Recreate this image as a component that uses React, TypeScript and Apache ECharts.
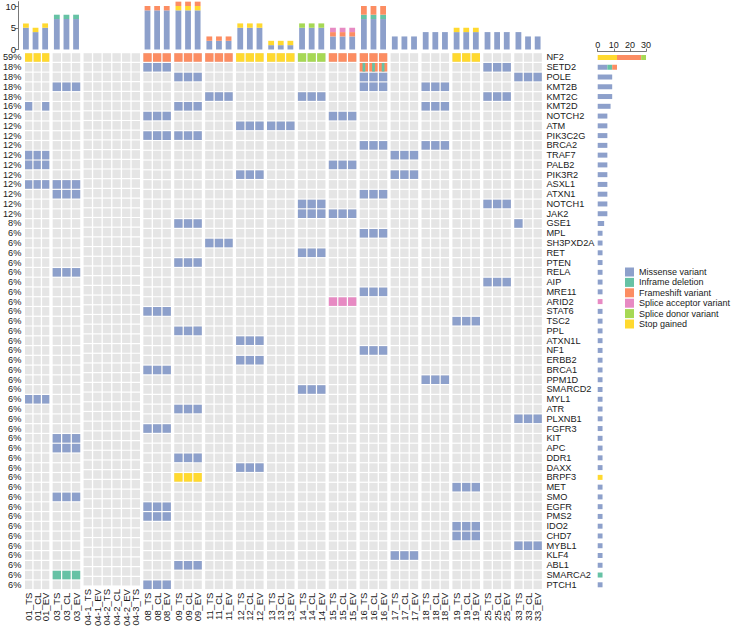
import React, { useEffect, useRef } from 'react';
import * as echarts from 'echarts';

const SAMPLES = ['01_TS','01_CL','01_EV','03_TS','03_CL','03_EV','04-1_TS','04-1_EV','04-2_TS','04-2_CL','04-2_EV','04-3_TS','08_TS','08_CL','08_EV','09_TS','09_CL','09_EV','11_TS','11_CL','11_EV','12_TS','12_CL','12_EV','13_TS','13_CL','13_EV','14_TS','14_CL','14_EV','15_TS','15_CL','15_EV','16_TS','16_CL','16_EV','17_TS','17_CL','17_EV','18_TS','18_CL','18_EV','19_TS','19_CL','19_EV','25_TS','25_CL','25_EV','33_TS','33_CL','33_EV'];

const GENES = ['NF2','SETD2','POLE','KMT2B','KMT2C','KMT2D','NOTCH2','ATM','PIK3C2G','BRCA2','TRAF7','PALB2','PIK3R2','ASXL1','ATXN1','NOTCH1','JAK2','GSE1','MPL','SH3PXD2A','RET','PTEN','RELA','AIP','MRE11','ARID2','STAT6','TSC2','PPL','ATXN1L','NF1','ERBB2','BRCA1','PPM1D','SMARCD2','MYL1','ATR','PLXNB1','FGFR3','KIT','APC','DDR1','DAXX','BRPF3','MET','SMO','EGFR','PMS2','IDO2','CHD7','MYBL1','KLF4','ABL1','SMARCA2','PTCH1'];

// legend order
const TYPES = ['Missense variant','Inframe deletion','Frameshift variant','Splice acceptor variant','Splice donor variant','Stop gained'];
const TYPE_COLORS = ['#8DA0CB','#66C2A5','#FC8D62','#E78AC3','#A6D854','#FFD92F'];
// stacking order (bottom -> top / left -> right)
const STACK_ORDER = ['Missense variant','Stop gained','Inframe deletion','Frameshift variant','Splice acceptor variant','Splice donor variant'];

const M = 'Missense variant';
// [gene, samples or patient groups, type]
const MUTATIONS: [string, string[], string][] = [
  ['NF2', ['01','12','13','19'], 'Stop gained'],
  ['NF2', ['08','09','11','15','16'], 'Frameshift variant'],
  ['NF2', ['14'], 'Splice donor variant'],
  ['SETD2', ['08','25'], M],
  ['SETD2', ['16'], 'Inframe deletion'],
  ['SETD2', ['16'], 'Frameshift variant'],
  ['POLE', ['09','16','33'], M],
  ['KMT2B', ['03','16','18'], M],
  ['KMT2C', ['11','14','25'], M],
  ['KMT2D', ['01_TS','01_EV','09','18'], M],
  ['NOTCH2', ['08','15'], M],
  ['ATM', ['12','13'], M],
  ['PIK3C2G', ['08','09'], M],
  ['BRCA2', ['16','18'], M],
  ['TRAF7', ['01','17'], M],
  ['PALB2', ['01','15'], M],
  ['PIK3R2', ['12','17'], M],
  ['ASXL1', ['01','03'], M],
  ['ATXN1', ['03','16'], M],
  ['NOTCH1', ['14','25'], M],
  ['JAK2', ['14','15'], M],
  ['GSE1', ['09','33_TS'], M],
  ['MPL', ['16'], M],
  ['SH3PXD2A', ['11'], M],
  ['RET', ['14'], M],
  ['PTEN', ['09'], M],
  ['RELA', ['03'], M],
  ['AIP', ['25'], M],
  ['MRE11', ['16'], M],
  ['ARID2', ['15'], 'Splice acceptor variant'],
  ['STAT6', ['08'], M],
  ['TSC2', ['19'], M],
  ['PPL', ['09'], M],
  ['ATXN1L', ['12'], M],
  ['NF1', ['16'], M],
  ['ERBB2', ['12'], M],
  ['BRCA1', ['08'], M],
  ['PPM1D', ['18'], M],
  ['SMARCD2', ['14'], M],
  ['MYL1', ['01'], M],
  ['ATR', ['09'], M],
  ['PLXNB1', ['33'], M],
  ['FGFR3', ['08'], M],
  ['KIT', ['03'], M],
  ['APC', ['03'], M],
  ['DDR1', ['09'], M],
  ['DAXX', ['12'], M],
  ['BRPF3', ['09'], 'Stop gained'],
  ['MET', ['19'], M],
  ['SMO', ['03'], M],
  ['EGFR', ['08'], M],
  ['PMS2', ['08'], M],
  ['IDO2', ['19'], M],
  ['CHD7', ['19'], M],
  ['MYBL1', ['33'], M],
  ['KLF4', ['17'], M],
  ['ABL1', ['09'], M],
  ['SMARCA2', ['03'], 'Inframe deletion'],
  ['PTCH1', ['08'], M],
];

const TOP_TICKS = [0, 5, 10];
const RIGHT_TICKS = [0, 10, 20, 30];

const FONT = '"Liberation Sans", Arial, Helvetica, sans-serif';
const TXT = '#1a1a1a';

function groupOf(s: string) { return s.split('_')[0].split('-')[0]; }
function expand(code: string) { return code.includes('_') ? [code] : SAMPLES.filter(s => groupOf(s) === code); }

function buildOption() {
  const mask: Record<string, Record<string, number>> = {};
  GENES.forEach(g => { mask[g] = {}; });
  MUTATIONS.forEach(([g, codes, t]) => {
    const bit = 1 << TYPES.indexOf(t);
    codes.forEach(c => expand(c).forEach(s => { mask[g][s] = (mask[g][s] || 0) | bit; }));
  });
  const pct: Record<string, string> = {};
  GENES.forEach(g => { pct[g] = Math.round(Object.keys(mask[g]).length / SAMPLES.length * 100) + '%'; });

  const groups: string[] = [];
  SAMPLES.forEach(s => { const g = groupOf(s); if (!groups.includes(g)) groups.push(g); });

  const COL = 9.62, GAP = 2.05, LEFT0 = 21.1;
  const HEAT_TOP = 52.6, ROW_H = 9.765, HEAT_H = ROW_H * GENES.length;
  const sampleCounts = (s: string, t: string) => GENES.filter(g => (mask[g][s] || 0) & (1 << TYPES.indexOf(t))).length;
  const totals = SAMPLES.map(s => TYPES.reduce((a, t) => a + sampleCounts(s, t), 0));
  const topMax = Math.max(...totals);
  const PX_PER = 4.35, BAR_BOTTOM = 49.5;
  const BAR_H = topMax * PX_PER, BAR_TOP = BAR_BOTTOM - BAR_H;

  const grid: any[] = [], xAxis: any[] = [], yAxis: any[] = [], series: any[] = [];
  let left = LEFT0;
  groups.forEach((grp, k) => {
    const gs = SAMPLES.filter(s => groupOf(s) === grp);
    const w = gs.length * COL;
    const hi = grid.length;
    grid.push({ left, top: HEAT_TOP, width: w, height: HEAT_H });
    const bi = grid.length;
    grid.push({ left, top: BAR_TOP, width: w, height: BAR_H });
    left += w + GAP;

    xAxis.push({ gridIndex: hi, type: 'category', data: gs, position: 'bottom',
      axisLine: { show: false }, axisTick: { show: false },
      axisLabel: { rotate: 90, interval: 0, fontSize: 9.5, margin: 3, color: TXT, fontFamily: FONT } });
    const yi = yAxis.length;
    const first = k === 0, last = k === groups.length - 1;
    yAxis.push({ gridIndex: hi, type: 'category', data: GENES, inverse: true,
      show: first || last, position: first ? 'left' : 'right',
      axisLine: { show: false }, axisTick: { show: false },
      axisLabel: { interval: 0, fontSize: 9.2, margin: first ? 3 : 4, color: TXT, fontFamily: FONT,
        formatter: first ? ((v: string) => pct[v]) : undefined } });
    const xi = xAxis.length - 1;

    xAxis.push({ gridIndex: bi, type: 'category', data: gs, show: false });
    yAxis.push({ gridIndex: bi, type: 'value', min: 0, max: topMax, show: first, position: 'left', offset: 3,
      axisLine: { show: true, lineStyle: { color: '#555', width: 0.8 } },
      axisTick: { show: true, length: 3, lineStyle: { color: '#555', width: 0.8 }, customValues: TOP_TICKS },
      axisLabel: { fontSize: 9.5, margin: 2, color: TXT, fontFamily: FONT, customValues: TOP_TICKS,
        formatter: (v: number) => (TOP_TICKS.includes(v) ? String(v) : '') },
      splitLine: { show: false } });

    const cells: number[][] = [];
    gs.forEach((s, ci) => GENES.forEach((g, ri) => cells.push([ci, ri, mask[g][s] || 0])));
    series.push({
      type: 'custom', xAxisIndex: xi, yAxisIndex: yi, data: cells, encode: { x: 0, y: 1 }, silent: true,
      renderItem: (_p: any, api: any) => {
        const c = api.coord([api.value(0), api.value(1)]);
        const sz = api.size([1, 1]);
        const cw = sz[0] - 1.3, ch = sz[1] - 1.2;
        const x0 = c[0] - cw / 2, y0 = c[1] - ch / 2;
        const m = api.value(2);
        const children: any[] = [{ type: 'rect', shape: { x: x0, y: y0, width: cw, height: ch }, style: { fill: '#E5E5E5' } }];
        const present = STACK_ORDER.filter(t => m & (1 << TYPES.indexOf(t))).reverse();
        present.forEach((t, i) => {
          const col = TYPE_COLORS[TYPES.indexOf(t)];
          if (i === 0) children.push({ type: 'rect', shape: { x: x0, y: y0, width: cw, height: ch }, style: { fill: col } });
          else children.push({ type: 'rect', shape: { x: x0 + cw / 3, y: y0, width: cw / 3, height: ch }, style: { fill: col } });
        });
        return { type: 'group', children };
      },
    });

    STACK_ORDER.forEach(t => {
      series.push({ type: 'bar', name: t, xAxisIndex: xAxis.length - 1, yAxisIndex: yAxis.length - 1,
        stack: 'top' + k, barWidth: 5.8, silent: true,
        itemStyle: { color: TYPE_COLORS[TYPES.indexOf(t)] },
        data: gs.map(s => sampleCounts(s, t)) });
    });
  });

  const ri = grid.length;
  grid.push({ left: 597.7, top: HEAT_TOP, width: 48.3, height: HEAT_H });
  xAxis.push({ gridIndex: ri, type: 'value', position: 'top', min: 0, max: 30, interval: 10, offset: 1,
    axisLine: { show: true, lineStyle: { color: '#555', width: 0.8 } },
    axisTick: { show: true, length: 3, lineStyle: { color: '#555', width: 0.8 } },
    axisLabel: { fontSize: 9, margin: 2, color: TXT, fontFamily: FONT, customValues: RIGHT_TICKS },
    splitLine: { show: false } });
  yAxis.push({ gridIndex: ri, type: 'category', data: GENES, inverse: true, show: false });
  STACK_ORDER.forEach(t => {
    const bit = 1 << TYPES.indexOf(t);
    series.push({ type: 'bar', name: t, xAxisIndex: xAxis.length - 1, yAxisIndex: yAxis.length - 1,
      stack: 'right', barWidth: 5, silent: true,
      itemStyle: { color: TYPE_COLORS[TYPES.indexOf(t)] },
      data: GENES.map(g => SAMPLES.filter(s => (mask[g][s] || 0) & bit).length) });
  });

  return {
    animation: false,
    backgroundColor: '#ffffff',
    textStyle: { fontFamily: FONT },
    legend: { data: TYPES, orient: 'vertical', left: 625, top: 267.5, padding: 0, itemWidth: 9, itemHeight: 9, itemGap: 1.4,
      icon: 'rect', selectedMode: false,
      textStyle: { fontSize: 9, lineHeight: 9, color: TXT, fontFamily: FONT } },
    grid, xAxis, yAxis, series,
  };
}

export default function App() {
  const ref = useRef<HTMLDivElement>(null);
  useEffect(() => {
    if (!ref.current) return;
    const chart = echarts.init(ref.current, undefined, { renderer: 'svg' });
    chart.setOption(buildOption() as any);
    return () => chart.dispose();
  }, []);
  return <div ref={ref} style={{ position: 'absolute', left: 0, top: 0, width: 733, height: 629 }} />;
}
